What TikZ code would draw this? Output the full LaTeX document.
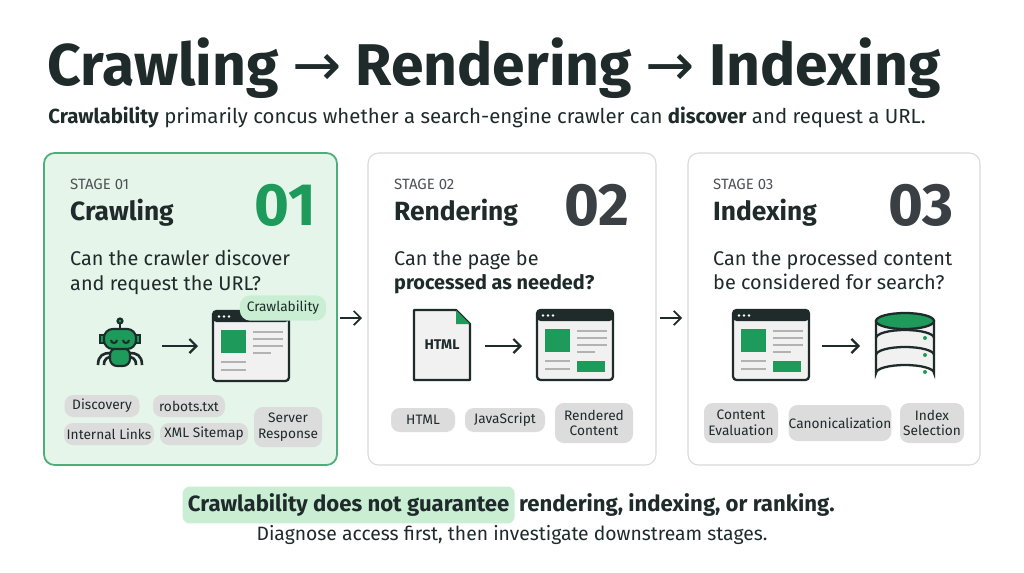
\documentclass[tikz,border=0pt]{standalone}
\usepackage{fontspec}
\setmainfont{Fira Sans}
\newfontfamily\arrfont{DejaVu Sans}
\usetikzlibrary{arrows.meta}
\definecolor{gr}{HTML}{1E9A5A}
\definecolor{grl}{HTML}{E5F5EA}
\definecolor{grt}{HTML}{C9EED4}
\definecolor{dk}{HTML}{1F2A2A}
\definecolor{num}{HTML}{3A3F44}
\definecolor{chip}{HTML}{DCDCDC}
\definecolor{pg}{HTML}{F1F1F1}
\tikzset{
 card/.style={draw=black!15,line width=0.6pt,rounded corners=6pt,fill=white},
 chipn/.style={fill=chip,rounded corners=5pt,font=\fontsize{7.8}{9}\selectfont,text=dk,align=center,inner sep=0pt},
 stg/.style={font=\fontsize{8.5}{10}\selectfont,text=num!90,anchor=west},
 hd/.style={font=\fontsize{15}{18}\selectfont\bfseries,text=dk,anchor=west},
 bign/.style={font=\fontsize{34}{36}\selectfont\bfseries,anchor=east},
 q/.style={font=\fontsize{11.3}{14}\selectfont,text=dk,anchor=north west,align=left},
 ar/.style={-{Straight Barb[length=4pt,width=8pt]},line width=1.3pt,draw=dk},
 pics/browser/.style={code={
  \draw[dk,line width=1.3pt,fill=pg,rounded corners=2pt] (0,0) rectangle (76,70);
  \fill[dk,rounded corners=2pt] (0,0) rectangle (76,11);
  \foreach \i in {6,11,16}\fill[white] (\i,5.5) circle (1.3);
  \fill[gr] (8,19) rectangle (33,42);
  \foreach \yy/\ll in {21/30,28/30,35/30,42/18}\draw[black!30,line width=1.5pt] (40,\yy)--(40+\ll,\yy);
  \foreach \yy in {51,59}\draw[black!30,line width=1.5pt] (8,\yy)--(33,\yy);
 }},
}
\begin{document}
\begin{tikzpicture}[x=0.02cm,y=-0.02cm]
\useasboundingbox (0,0) rectangle (1024,572);
\fill[white] (0,0) rectangle (1024,572);
\node[anchor=west,font=\fontsize{33.5}{36}\selectfont\bfseries,text=dk,inner xsep=0pt] (title) at (47,68) {Crawling {\arrfont\mdseries →} Rendering {\arrfont\mdseries →} Indexing};
\node[anchor=west,font=\fontsize{11.6}{13}\selectfont,text=dk,inner xsep=0pt] (sub) at (48,117) {\textbf{Crawlability} primarily concus whether a search-engine crawler can \textbf{discover} and request a URL.};
% cards
\draw[card,fill=grl,draw=gr!80,line width=1pt] (44,153) rectangle (337,465);
\draw[card] (368,153) rectangle (656,465);
\draw[card] (688,153) rectangle (980,465);
% card 1
\node[stg] (s1) at (64,184) {STAGE 01};
\node[hd] (h1) at (64,213) {Crawling};
\node[bign,text=gr] (n1) at (322,205) {01};
\node[q] (q1) at (64,244) {Can the crawler discover\\and request the URL?};
% card 2
\node[stg] (s2) at (388,184) {STAGE 02};
\node[hd] (h2) at (388,213) {Rendering};
\node[bign,text=num] (n2) at (636,205) {02};
\node[q] (q2) at (388,244) {Can the page be\\\textbf{processed as needed?}};
% card 3
\node[stg] (s3) at (707,184) {STAGE 03};
\node[hd] (h3) at (707,213) {Indexing};
\node[bign,text=num] (n3) at (960,205) {03};
\node[q] (q3) at (707,244) {Can the processed content\\be considered for search?};
% between arrows
\coordinate (a1) at (340,318); \coordinate (b1) at (362,318);
\coordinate (a2) at (660,318); \coordinate (b2) at (682,318);
\draw[ar,line width=1pt] (a1)--(b1);
\draw[ar,line width=1pt] (a2)--(b2);
% robot
\begin{scope}[shift={(120,345)}]
\draw[dk,line width=1.5pt] (-22,20) .. controls (-22,10) and (-16,8) .. (-10,8);
\draw[dk,line width=1.5pt] (-16,20) .. controls (-16,13) and (-12,12) .. (-8,12);
\draw[dk,line width=1.5pt] (22,20) .. controls (22,10) and (16,8) .. (10,8);
\draw[dk,line width=1.5pt] (16,20) .. controls (16,13) and (12,12) .. (8,12);
\draw[dk,line width=1.2pt,fill=gr,rounded corners=4pt] (-10,3) rectangle (10,21);
\draw[dk,line width=1.2pt] (0,-16)--(0,-22);
\draw[dk,line width=1.2pt,fill=gr] (0,-24) circle (2.5);
\draw[dk,line width=1.2pt,fill=gr] (-20,-10) rectangle (-16,-2);
\draw[dk,line width=1.2pt,fill=gr] (20,-10) rectangle (16,-2);
\draw[dk,line width=1.2pt,fill=gr,rounded corners=5pt] (-16,-16) rectangle (16,4);
\draw[dk,line width=1.2pt] (-9,-5) arc (180:0:3);
\draw[dk,line width=1.2pt] (3,-5) arc (180:0:3);
\end{scope}
\coordinate (r1) at (162,346); \coordinate (r2) at (198,346);
\draw[ar] (r1)--(r2);
\pic at (213,311) {browser};
\node[fill=grt,rounded corners=6pt,font=\fontsize{7.8}{9}\selectfont,text=dk,minimum height=18*0.02cm,inner xsep=4pt] (tag) at (283,308) {Crawlability};
% chips card1
\node[chipn,minimum width=75*0.02cm,minimum height=22*0.02cm] (c1) at (102,406) {Discovery};
\node[chipn,minimum width=72*0.02cm,minimum height=22*0.02cm] (c2) at (189,406) {robots.txt};
\node[chipn,minimum width=90*0.02cm,minimum height=22*0.02cm] (c3) at (109,434) {Internal Links};
\node[chipn,minimum width=88*0.02cm,minimum height=22*0.02cm] (c4) at (204,434) {XML Sitemap};
\node[chipn,minimum width=68*0.02cm,minimum height=40*0.02cm] (c5) at (288,427) {Server\\Response};
% card2 icons
\begin{scope}[shift={(414,310)}]
\draw[dk,line width=1.3pt,fill=pg,line join=round] (0,0)--(42,0)--(56,14)--(56,70)--(0,70)--cycle;
\fill[gr] (42,0)--(56,14)--(42,14)--cycle;
\node[font=\fontsize{8}{9}\selectfont\bfseries,text=dk] (htmlt) at (28,35) {HTML};
\end{scope}
\coordinate (r3) at (485,346); \coordinate (r4) at (522,346);
\draw[ar] (r3)--(r4);
\pic at (537,310) {browser};
\fill[gr] (577,361) rectangle (605,372);
\node[chipn,minimum width=64*0.02cm,minimum height=24*0.02cm] (d1) at (423,420) {HTML};
\node[chipn,minimum width=80*0.02cm,minimum height=24*0.02cm] (d2) at (505,420) {JavaScript};
\node[chipn,minimum width=78*0.02cm,minimum height=40*0.02cm] (d3) at (594,423) {Rendered\\Content};
% card3 icons
\pic at (733,310) {browser};
\fill[gr] (773,361) rectangle (801,372);
\coordinate (r5) at (822,346); \coordinate (r6) at (860,346);
\draw[ar] (r5)--(r6);
\begin{scope}[shift={(905,0)},line width=1.3pt]
\draw[dk,fill=pg] (-29,373) arc (180:360:29 and 8) -- (29,321) -- (-29,321) -- cycle;
\draw[dk] (-29,338) arc (180:360:29 and 8);
\draw[dk] (-29,355) arc (180:360:29 and 8);
\draw[dk,fill=gr] (0,321) ellipse (29 and 8);
\foreach \yy in {338,355,372}\fill[gr] (20,\yy) circle (2);
\end{scope}
\node[chipn,minimum width=74*0.02cm,minimum height=40*0.02cm] (e1) at (741,423) {Content\\Evaluation};
\node[chipn,minimum width=102*0.02cm,minimum height=36*0.02cm] (e2) at (840,423) {Canonicalization};
\node[chipn,minimum width=64*0.02cm,minimum height=40*0.02cm] (e3) at (932,423) {Index\\Selection};
% bottom
\node[fill=grt,rounded corners=4pt,font=\fontsize{12.6}{14}\selectfont\bfseries,text=dk,inner xsep=3pt,inner ysep=4pt,anchor=east] (hl) at (515,505) {Crawlability does not guarantee};
\node[font=\fontsize{12.6}{14}\selectfont\bfseries,text=dk,anchor=west,inner xsep=0pt] (hl2) at (hl.east) {\,rendering, indexing, or ranking.};
\node[font=\fontsize{11}{13}\selectfont,text=dk] (b2) at (512,535) {Diagnose access first, then investigate downstream stages.};
\end{tikzpicture}
\end{document}
